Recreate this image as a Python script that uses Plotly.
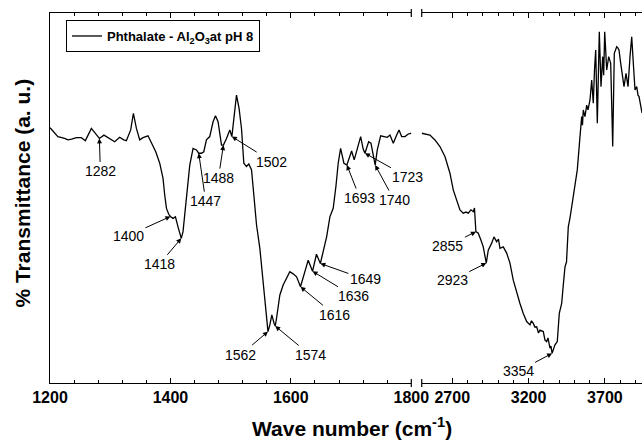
import numpy as np
import plotly.graph_objects as go

# FTIR spectrum of phthalate adsorbed on Al2O3 at pH 8 (transmittance, arbitrary units)

# Fingerprint region, 1200-1800 cm-1
wn_low = [1200, 1213.1, 1224.3, 1229.8, 1235.9, 1243.7, 1252.0, 1258.7, 1268.7, 1277.0,
          1282, 1289.6, 1299.1, 1307.4, 1315.7, 1322.4, 1326.8, 1334.0, 1338.5, 1343.5,
          1349.0, 1354.4, 1362.8, 1368.4, 1375.6, 1382.2, 1387.7, 1390.5, 1393.4, 1397.2,
          1400, 1404.3, 1408.3, 1412.6, 1418, 1420.9, 1426.6, 1432.1, 1437.6, 1443.2,
          1447, 1451.5, 1455.4, 1459.8, 1465.3, 1470.8, 1474.8, 1479.1, 1484.8, 1488,
          1493.1, 1498.6, 1502, 1505.7, 1509.7, 1514.0, 1518.0, 1521.9, 1526.3, 1530.2,
          1534.7, 1538.5, 1543.0, 1548.5, 1553.9, 1558.4, 1562, 1565.1, 1568.4, 1572.2,
          1574, 1576.2, 1581.7, 1587.2, 1592.9, 1598.3, 1603.8, 1609.5, 1616, 1621.6,
          1628.8, 1636, 1639.5, 1642.5, 1649, 1653.7, 1659.4, 1664.8, 1670.3, 1674.8,
          1678.6, 1682.6, 1688.1, 1693, 1696.4, 1700.9, 1705.2, 1710.2, 1715.9, 1720,
          1723, 1729.2, 1733.0, 1740, 1743.5, 1749.1, 1754.6, 1760.1, 1764.6, 1770.1,
          1775.7, 1779.6, 1784.0, 1789.5, 1795.0, 1800]
t_low = [69.0, 66.6, 66.1, 65.7, 65.9, 66.3, 66.3, 65.5, 68.8, 67.0,
         66.1, 67.0, 66.1, 65.2, 66.4, 65.7, 65.5, 68.4, 72.9, 68.8,
         65.7, 66.3, 66.8, 65.0, 62.5, 59.4, 55.3, 50.8, 47.2, 45.6,
         45.0, 44.5, 44.9, 42.2, 39.1, 40.9, 50.8, 58.9, 63.4, 63.0,
         62.1, 62.1, 62.5, 65.7, 66.6, 70.6, 72.2, 70.6, 64.3, 64.3,
         66.1, 68.4, 66.6, 71.5, 77.8, 74.2, 68.8, 59.4, 58.5, 59.2,
         57.6, 50.8, 42.7, 36.4, 26.5, 19.3, 13.9, 15.7, 18.4, 16.1,
         15.4, 17.5, 23.8, 26.5, 28.3, 30.1, 29.5, 28.7, 26.0, 29.2,
         33.2, 30.2, 33.2, 34.8, 32.3, 35.9, 39.5, 44.9, 47.2, 53.1,
         59.4, 63.4, 59.4, 58.9, 60.3, 62.7, 60.3, 63.4, 66.6, 63.3,
         62.1, 65.2, 64.8, 58.9, 63.0, 66.8, 66.6, 66.4, 67.0, 64.8,
         67.0, 68.4, 66.6, 66.6, 67.3, 67.5]

# High-wavenumber region, 2500-3943 cm-1
wn_high = [2500, 2553.9, 2586.6, 2619.4, 2652.2, 2684.9, 2706.6, 2728.8, 2750.5, 2772.1,
           2789.8, 2804.8, 2822.5, 2837.6, 2845.5, 2855, 2870.4, 2888.1, 2903.1, 2923,
           2935.9, 2958.2, 2973.3, 2991.0, 3002.7, 3012.6, 3034.2, 3056.5, 3078.1, 3099.7,
           3122.0, 3143.6, 3165.3, 3187.5, 3209.2, 3219.0, 3230.8, 3241.9, 3253.1, 3264.9,
           3274.7, 3296.3, 3307.5, 3318.6, 3327.1, 3340.2, 3346.7, 3354, 3372.9, 3388.0,
           3401.2, 3416.9, 3427.4, 3438.5, 3448.4, 3460.1, 3471.3, 3482.4, 3504.1, 3510.6,
           3519.1, 3536.8, 3547.9, 3553.1, 3558.4, 3569.5, 3580.7, 3589.2, 3602.3, 3613.5,
           3623.9, 3631.8, 3639.7, 3650.2, 3656.1, 3663.3, 3674.4, 3685.6, 3692.1, 3698.7,
           3711.8, 3718.3, 3724.9, 3738.0, 3751.1, 3761.6, 3777.3, 3785.8, 3792.4, 3802.2,
           3810.1, 3818.6, 3825.2, 3838.3, 3851.4, 3864.5, 3875.6, 3886.1, 3897.2, 3908.4,
           3916.9, 3923.5, 3936.6, 3943.1]
t_high = [67.5, 67.0, 65.7, 63.9, 61.2, 56.7, 52.2, 49.5, 46.8, 45.9,
          46.2, 45.9, 46.8, 46.3, 47.3, 40.9, 40.5, 38.6, 36.8, 32.4,
          35.9, 37.8, 39.5, 38.2, 38.9, 36.4, 36.8, 35.1, 32.4, 27.8,
          24.2, 21.5, 18.8, 16.6, 15.7, 16.8, 16.1, 15.1, 15.2, 13.5,
          14.3, 13.9, 11.6, 11.2, 12.2, 9.4, 10.0, 8.0, 10.3, 11.2,
          18.8, 21.5, 26.5, 31.4, 32.7, 42.2, 44.6, 47.6, 53.1, 55.4,
          57.6, 66.6, 72.0, 69.7, 73.8, 72.0, 75.1, 73.8, 76.5, 81.9,
          75.6, 84.6, 90.0, 70.2, 81.9, 94.9, 80.1, 88.2, 83.2, 94.9,
          84.6, 87.3, 88.2, 86.4, 63.9, 89.1, 90.9, 90.5, 90.0, 86.8,
          84.6, 81.9, 80.1, 83.7, 80.1, 88.2, 93.6, 86.4, 79.2, 80.1,
          77.8, 77.4, 73.8, 73.0]

# Assigned band positions (cm-1)
bands_low = [1282, 1400, 1418, 1447, 1488, 1502, 1562, 1574, 1616, 1636, 1649, 1693, 1723, 1740]
bands_high = [2855, 2923, 3354]

# Axis ticks
ticks_low = [1200, 1400, 1600, 1800]
ticks_high = [2700, 3200, 3700]

# Pixel offset of each band label from its arrow tip
label_offset = {
    1282: (1, 33), 1400: (-42, 19), 1418: (-22, 26), 1447: (7, 48), 1488: (-5, 33),
    1502: (40, 25), 1562: (-27, 23), 1574: (35, 29), 1616: (34, 28), 1636: (41, 25),
    1649: (45, 16), 1693: (13, 33), 1723: (43, 24), 1740: (19, 35),
    2855: (-28, 14), 2923: (-34, 17), 3354: (-34, 18),
}

FONT = "Liberation Sans, Arial, Helvetica, sans-serif"
BLACK = "#000000"

fig = go.Figure()
fig.add_trace(go.Scatter(
    x=wn_low, y=t_low, mode="lines", xaxis="x", yaxis="y",
    line=dict(color=BLACK, width=1.3),
    name="<b>Phthalate - Al<sub>2</sub>O<sub>3</sub>at pH 8</b>",
))
fig.add_trace(go.Scatter(
    x=wn_high, y=t_high, mode="lines", xaxis="x2", yaxis="y2",
    line=dict(color=BLACK, width=1.3), showlegend=False,
))

xcommon = dict(
    showline=True, linecolor=BLACK, linewidth=1.2, mirror="ticks",
    ticks="inside", ticklen=5, tickwidth=1.2, tickcolor=BLACK,
    showgrid=False, zeroline=False, automargin=False,
    tickfont=dict(family=FONT, size=16, color=BLACK, weight="bold"),
)

minor_low = [v for v in range(1240, 1800, 40) if v not in ticks_low]
minor_high = [v for v in range(2800, 3943, 100) if v not in ticks_high]

fig.update_layout(
    template="none",
    width=642, height=440,
    margin=dict(l=50, r=0, t=13, b=57, pad=0, autoexpand=False),
    plot_bgcolor="white", paper_bgcolor="white",
    font=dict(family=FONT, color=BLACK),
    xaxis=dict(domain=[0, 0.6103], range=[1200, 1800], tickvals=ticks_low, anchor="y",
               minor=dict(tickvals=minor_low, ticks="inside", ticklen=3,
                          tickwidth=1, tickcolor=BLACK),
               **xcommon),
    xaxis2=dict(domain=[0.6279, 1], range=[2500, 3943], tickvals=ticks_high, anchor="y2",
                minor=dict(tickvals=minor_high, ticks="inside", ticklen=3,
                           tickwidth=1, tickcolor=BLACK),
                **xcommon),
    yaxis=dict(domain=[0, 1], range=[0, 100], anchor="x", showline=True, linecolor=BLACK,
               linewidth=1.2, ticks="", showticklabels=False, showgrid=False,
               zeroline=False, automargin=False),
    yaxis2=dict(domain=[0, 1], range=[0, 100], anchor="x2", showline=False, ticks="",
                showticklabels=False, showgrid=False, zeroline=False, automargin=False),
    showlegend=True,
    legend=dict(x=0.027, y=0.981, xanchor="left", yanchor="top",
                bordercolor=BLACK, borderwidth=1, bgcolor="white",
                font=dict(family=FONT, size=13, color=BLACK), itemwidth=30),
)

# Axis-break markers at the inner ends of both panels
for xref, yref, xpos in (("x domain", "y domain", 1), ("x2 domain", "y2 domain", 0)):
    for yanc in (0, 1):
        fig.add_shape(type="line", xref=xref, yref=yref, x0=xpos, x1=xpos,
                      ysizemode="pixel", yanchor=yanc, y0=-4, y1=4,
                      line=dict(color=BLACK, width=1.2))

# Band labels with arrows
def add_bands(bands, wn, t, xref, yref):
    for b in bands:
        dx, dy = label_offset[b]
        fig.add_annotation(
            x=b, y=float(np.interp(b, wn, t)), xref=xref, yref=yref,
            text=str(b), showarrow=True, ax=dx, ay=dy,
            arrowhead=2, arrowsize=1, arrowwidth=1, arrowcolor=BLACK, standoff=0,
            font=dict(family=FONT, size=14, color=BLACK),
        )

add_bands(bands_low, wn_low, t_low, "x", "y")
add_bands(bands_high, wn_high, t_high, "x2", "y2")

# Axis titles
fig.add_annotation(
    text="<b>Wave number (cm<sup>-1</sup>)</b>", xref="paper", yref="paper",
    x=0.51, y=-0.118, xanchor="center", yanchor="middle", showarrow=False,
    font=dict(family=FONT, size=21, color=BLACK),
)
fig.add_annotation(
    text="<b>% Transmittance (a. u.)</b>", xref="paper", yref="paper",
    x=-0.0456, y=0.512, xanchor="center", yanchor="middle", showarrow=False,
    textangle=-90, font=dict(family=FONT, size=21, color=BLACK),
)

fig.write_html("out.html")
